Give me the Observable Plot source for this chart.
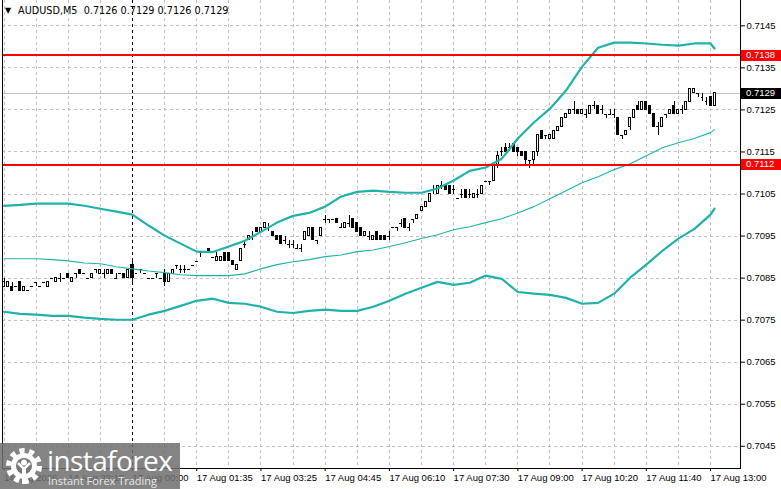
<!DOCTYPE html>
<html><head><meta charset="utf-8">
<script src="https://cdn.jsdelivr.net/npm/d3@7"></script>
<script src="https://cdn.jsdelivr.net/npm/@observablehq/plot@0.6"></script>
<style>
html,body{margin:0;padding:0;background:#fff;}
#wrap{position:relative;width:781px;height:489px;overflow:hidden;}
#wm{position:absolute;left:0;top:443px;width:180px;height:46px;background:rgba(112,112,112,0.86);}
#wm .big{position:absolute;left:47px;top:-3px;font-family:'Open Sans',sans-serif;font-size:28px;letter-spacing:-0.6px;color:#fff;line-height:40px;}
#wm .small{position:absolute;left:48px;top:31px;font-family:'Open Sans',sans-serif;font-size:11px;color:#e8e8e8;line-height:14px;}
#wm svg{position:absolute;left:4px;top:3px;}
</style></head><body>
<div id="wrap"></div>
<script>
// ---- data ----
const title = "AUDUSD,M5  0.7126 0.7129 0.7126 0.7129";
const opens = [
.7083,.7083,.7083,.7083,.7084,.7082,.7082,.7083,.7084,.7083,
.7084,.7083,.7085,.7084,.7085,.7085,.7086,.7084,.7086,.7087,
.7086,.7085,.7085,.7087,.7086,.7086,.7086,.7087,.7085,.7086,
.7086,.7085,.7088,.7086,.7087,.7086,.7085,.7085,.7086,.7085,
.7086,.7084,.7086,.7088,.7087,.7087,.7087,.7088,.7089,.7091,
.7091,.7092,.7090,.7089,.7089,.7091,.7091,.7089,.7087,.7089,
.7093,.7094,.7095,.7097,.7096,.7097,.7097,.7096,.7095,.7095,
.7094,.7093,.7093,.7092,.7092,.7094,.7095,.7097,.7094,.7095,
.7099,.7099,.7099,.7099,.7097,.7097,.7098,.7099,.7098,.7097,
.7095,.7095,.7094,.7096,.7095,.7095,.7095,.7097,.7097,.7098,
.7099,.7097,.7099,.7099,.7101,.7102,.7103,.7106,.7105,.7107,
.7107,.7107,.7106,.7104,.7105,.7106,.7105,.7104,.7105,.7105,
.7108,.7108,.7108,.7112,.7115,.7116,.7116,.7117,.7116,.7115,
.7115,.7113,.7113,.7115,.7120,.7119,.7118,.7118,.7120,.7121,
.7123,.7124,.7125,.7125,.7124,.7124,.7124,.7126,.7126,.7125,
.7124,.7124,.7124,.7123,.7119,.7119,.7121,.7123,.7126,.7125,
.7127,.7126,.7124,.7121,.7121,.7124,.7124,.7126,.7124,.7125,
.7125,.7127,.7129,.7129,.7128,.7127,.7128,.7126];
const highs = [
.7085,.7084,.7084,.7083,.7084,.7083,.7082,.7083,.7084,.7083,
.7084,.7084,.7085,.7085,.7086,.7085,.7086,.7085,.7086,.7087,
.7086,.7085,.7086,.7087,.7087,.7087,.7087,.7087,.7086,.7086,
.7086,.7087,.7089,.7086,.7087,.7086,.7085,.7085,.7086,.7085,
.7087,.7086,.7087,.7088,.7088,.7088,.7087,.7088,.7089,.7091,
.7091,.7092,.7090,.7091,.7090,.7091,.7091,.7089,.7088,.7092,
.7094,.7095,.7096,.7097,.7097,.7098,.7098,.7096,.7095,.7095,
.7095,.7094,.7094,.7093,.7093,.7096,.7097,.7097,.7094,.7097,
.7100,.7099,.7099,.7099,.7098,.7098,.7100,.7099,.7098,.7097,
.7096,.7096,.7095,.7096,.7095,.7095,.7096,.7097,.7097,.7099,
.7099,.7098,.7099,.7100,.7102,.7103,.7105,.7107,.7107,.7108,
.7107,.7107,.7107,.7104,.7106,.7106,.7106,.7105,.7106,.7107,
.7108,.7108,.7112,.7115,.7116,.7117,.7117,.7117,.7116,.7115,
.7115,.7113,.7115,.7119,.7120,.7119,.7119,.7120,.7121,.7123,
.7124,.7125,.7127,.7125,.7125,.7125,.7126,.7127,.7126,.7126,
.7124,.7125,.7125,.7123,.7119,.7120,.7123,.7125,.7127,.7127,
.7127,.7126,.7124,.7122,.7123,.7124,.7125,.7127,.7125,.7126,
.7127,.7130,.7130,.7129,.7129,.7128,.7128,.7129];
const lows = [
.7083,.7083,.7082,.7083,.7082,.7082,.7082,.7083,.7083,.7083,
.7084,.7083,.7085,.7084,.7084,.7085,.7085,.7084,.7085,.7086,
.7086,.7085,.7085,.7086,.7086,.7085,.7086,.7086,.7085,.7086,
.7085,.7085,.7084,.7086,.7086,.7086,.7085,.7085,.7085,.7085,
.7083,.7084,.7086,.7087,.7086,.7086,.7087,.7088,.7089,.7090,
.7091,.7091,.7090,.7089,.7089,.7089,.7089,.7088,.7087,.7089,
.7092,.7094,.7094,.7096,.7096,.7097,.7096,.7095,.7094,.7093,
.7093,.7092,.7092,.7092,.7091,.7094,.7095,.7094,.7093,.7095,
.7098,.7098,.7099,.7098,.7097,.7097,.7097,.7097,.7096,.7095,
.7095,.7094,.7094,.7094,.7094,.7094,.7094,.7097,.7096,.7097,
.7097,.7096,.7098,.7099,.7101,.7102,.7103,.7105,.7105,.7106,
.7106,.7105,.7105,.7104,.7104,.7104,.7104,.7104,.7104,.7105,
.7108,.7107,.7108,.7111,.7114,.7115,.7115,.7115,.7114,.7114,
.7112,.7111,.7112,.7114,.7118,.7118,.7118,.7118,.7120,.7121,
.7123,.7124,.7124,.7124,.7124,.7123,.7124,.7125,.7124,.7124,
.7123,.7124,.7123,.7119,.7118,.7119,.7120,.7123,.7125,.7125,
.7125,.7124,.7121,.7119,.7121,.7123,.7124,.7124,.7124,.7124,
.7125,.7127,.7129,.7128,.7127,.7126,.7126,.7126];
const closes = [
.7084,.7084,.7082,.7083,.7082,.7083,.7082,.7083,.7084,.7083,
.7084,.7084,.7085,.7085,.7085,.7085,.7085,.7085,.7086,.7086,
.7086,.7085,.7086,.7087,.7087,.7086,.7087,.7086,.7085,.7086,
.7085,.7087,.7085,.7086,.7087,.7086,.7085,.7085,.7086,.7085,
.7084,.7086,.7087,.7088,.7087,.7087,.7087,.7088,.7089,.7091,
.7091,.7091,.7090,.7090,.7090,.7089,.7089,.7088,.7088,.7092,
.7093,.7095,.7095,.7096,.7097,.7098,.7097,.7095,.7094,.7093,
.7094,.7093,.7093,.7092,.7092,.7096,.7097,.7094,.7094,.7097,
.7099,.7099,.7099,.7098,.7097,.7098,.7098,.7097,.7096,.7095,
.7096,.7095,.7095,.7094,.7094,.7094,.7095,.7097,.7097,.7098,
.7097,.7097,.7099,.7100,.7102,.7103,.7105,.7106,.7107,.7107,
.7106,.7105,.7106,.7104,.7105,.7104,.7105,.7105,.7105,.7107,
.7108,.7108,.7112,.7114,.7115,.7115,.7116,.7115,.7115,.7114,
.7113,.7113,.7115,.7119,.7118,.7119,.7119,.7120,.7121,.7123,
.7124,.7125,.7125,.7124,.7125,.7124,.7126,.7126,.7124,.7125,
.7124,.7124,.7124,.7119,.7119,.7120,.7123,.7125,.7125,.7127,
.7125,.7124,.7121,.7121,.7123,.7124,.7125,.7124,.7125,.7125,
.7127,.7130,.7130,.7129,.7128,.7127,.7126,.7129];

// Bollinger bands read at every 4th bar (and last bar)
const bandIdx = [0,4,8,12,16,20,24,28,32,36,40,44,48,52,56,60,64,68,72,76,80,84,88,92,96,100,104,108,112,116,120,124,128,132,136,140,144,148,152,156,160,164,168,172,176,177];
const upperBand = [
0.71022,0.71024,0.71027,0.71027,0.71027,0.71022,0.71015,0.71008,0.71001,0.70975,
0.70951,0.70932,0.70913,0.70912,0.70925,0.70939,0.70960,0.70982,0.70998,0.71005,
0.71020,0.71044,0.71055,0.71058,0.71055,0.71053,0.71053,0.71063,0.71082,0.71105,
0.71113,0.71134,0.71182,0.71220,0.71253,0.71296,0.71353,0.71398,0.71410,0.71410,
0.71408,0.71405,0.71403,0.71408,0.71408,0.71396];
const middleBand = [
0.70896,0.70896,0.70896,0.70894,0.70891,0.70886,0.70884,0.70877,0.70872,0.70867,
0.70863,0.70858,0.70856,0.70856,0.70856,0.70860,0.70872,0.70882,0.70889,0.70894,
0.70901,0.70905,0.70913,0.70917,0.70925,0.70934,0.70944,0.70953,0.70965,0.70972,
0.70982,0.70991,0.71005,0.71020,0.71039,0.71058,0.71077,0.71091,0.71108,0.71122,
0.71141,0.71160,0.71172,0.71182,0.71196,0.71203];
const lowerBand = [
0.70770,0.70765,0.70763,0.70760,0.70760,0.70756,0.70753,0.70751,0.70751,0.70763,
0.70772,0.70784,0.70796,0.70801,0.70791,0.70789,0.70782,0.70770,0.70767,0.70772,
0.70775,0.70772,0.70772,0.70782,0.70796,0.70813,0.70827,0.70841,0.70834,0.70839,
0.70856,0.70848,0.70817,0.70813,0.70810,0.70803,0.70789,0.70791,0.70813,0.70851,
0.70882,0.70915,0.70944,0.70967,0.71001,0.71015];

const yTicks = [0.7045,0.7055,0.7065,0.7075,0.7085,0.7095,0.7105,0.7115,0.7125,0.7135,0.7145];
const xTickIdx = [0,16,32,48,64,80,96,112,128,144,160,176];
const xTickLabels = ["14 Aug 2026","14 Aug 22:10","17 Aug 00:00","17 Aug 01:35","17 Aug 03:25","17 Aug 04:45","17 Aug 06:10","17 Aug 07:30","17 Aug 09:00","17 Aug 10:20","17 Aug 11:40","17 Aug 13:00"];
const gridIdx = [0,8,16,24,40,48,56,64,72,80,88,96,104,112,120,128,136,144,152,160,168,176];
const separatorIdx = [32];
const levels = [0.7138, 0.7112];
const lastPrice = 0.7129;
const xDomain = [-0.386, 183.47];
const yDomain = [0.703972, 0.715102];

// ---- build ----
const bars = opens.map((o, i) => ({i, o, h: highs[i], l: lows[i], c: closes[i]}));
const bodies = bars.filter(d => d.o !== d.c);
const dojis = bars.filter(d => d.o === d.c);
const band = arr => bandIdx.map((i, k) => ({i, v: arr[k]}));
const teal = "#20b2aa";
const crisp = {shapeRendering: "crispEdges", clip: true};

const chart = Plot.plot({
  width: 781, height: 489,
  marginLeft: 2, marginRight: 41, marginTop: 0, marginBottom: 21,
  style: {fontFamily: "'Liberation Sans', Arial, sans-serif", fontSize: "9.5px", background: "#fff", color: "#000", overflow: "visible"},
  x: {domain: xDomain, axis: null},
  y: {domain: yDomain, axis: null},
  marks: [
    Plot.ruleY(yTicks, {stroke: "#c0c0c0", strokeDasharray: "3,3", ...crisp}),
    Plot.ruleX(gridIdx, {stroke: "#c0c0c0", strokeDasharray: "3,3", ...crisp}),
    Plot.ruleX(separatorIdx, {stroke: "#000", strokeDasharray: "3,3", ...crisp}),
    Plot.ruleY([lastPrice], {stroke: "#c0c0c0", ...crisp}),
    Plot.ruleX(bars, {x: "i", y1: "l", y2: "h", stroke: "#000", ...crisp}),
    Plot.rect(bodies, {x1: d => d.i - 0.25, x2: d => d.i + 0.25, y1: "o", y2: "c",
      fill: d => d.c > d.o ? "#ffffff" : "#000000", stroke: "#000", ...crisp}),
    Plot.ruleY(dojis, {y: "c", x1: d => d.i - 0.37, x2: d => d.i + 0.37, stroke: "#000", ...crisp}),
    Plot.line(band(upperBand), {x: "i", y: "v", stroke: teal, strokeWidth: 2.2, clip: true}),
    Plot.line(band(middleBand), {x: "i", y: "v", stroke: teal, strokeWidth: 1.1, clip: true}),
    Plot.line(band(lowerBand), {x: "i", y: "v", stroke: teal, strokeWidth: 2.2, clip: true}),
    Plot.ruleY(levels, {stroke: "#ff0000", strokeWidth: 2, ...crisp}),
    Plot.axisY(yTicks, {anchor: "right", tickSize: 4, tickPadding: 2, tickFormat: d3.format(".4f"), label: null}),
    Plot.axisX(xTickIdx, {anchor: "bottom", tickSize: 3, tickPadding: 3, textAnchor: "start",
      tickFormat: d => xTickLabels[xTickIdx.indexOf(d)], label: null})
  ]
});

// frame lines, price tags, header
const svg = d3.select(chart);
const ys = chart.scale("y");
const left = 2, right = 740, bottom = 468;
const fr = svg.append("g").attr("stroke", "#000").attr("shape-rendering", "crispEdges");
fr.append("line").attr("x1", left + 0.5).attr("x2", left + 0.5).attr("y1", 0).attr("y2", bottom);
fr.append("line").attr("x1", right + 0.5).attr("x2", right + 0.5).attr("y1", 0).attr("y2", bottom + 0.5);
fr.append("line").attr("x1", left).attr("x2", right).attr("y1", bottom + 0.5).attr("y2", bottom + 0.5);

const tags = levels.map(v => ({v, bg: "#ff0000"})).concat([{v: lastPrice, bg: "#000000"}]);
const tg = svg.append("g").attr("text-anchor", "start");
tags.forEach(t => {
  const yy = Math.round(ys.apply(t.v));
  tg.append("rect").attr("x", right + 1).attr("y", yy - 5).attr("width", 40).attr("height", 11).attr("fill", t.bg);
  tg.append("text").attr("x", right + 6).attr("y", yy).attr("dy", "0.34em").attr("fill", "#fff")
    .attr("font-size", 9.5).text(d3.format(".4f")(t.v));
});

const hd = svg.append("g").attr("text-anchor", "start").attr("fill", "#000").attr("font-family", "'DejaVu Sans', sans-serif");
hd.append("text").attr("x", 5).attr("y", 13).attr("font-size", 8).text("▼");
hd.append("text").attr("x", 18).attr("y", 14).attr("font-size", 9.7).style("white-space", "pre").text(title);

const wrap = document.getElementById("wrap");
wrap.appendChild(chart);

// watermark
const wm = document.createElement("div");
wm.id = "wm";
wm.innerHTML = `<svg width="40" height="40" viewBox="-20 -20 40 40">
<circle r="15" fill="none" stroke="#fff" stroke-width="6" stroke-dasharray="5 4.4"/>
<circle r="13" fill="#fff"/>
<circle r="8" fill="#777"/>
<circle cx="0" cy="-3.5" r="3" fill="#fff"/>
<path d="M-6,-3 L0,3 L6,-3" stroke="#fff" stroke-width="2.5" fill="none"/>
<rect x="-2" y="2" width="4" height="16" fill="#fff"/>
</svg><div class="big">instaforex</div><div class="small">Instant Forex Trading</div>`;
wrap.appendChild(wm);
</script>
</body></html>
